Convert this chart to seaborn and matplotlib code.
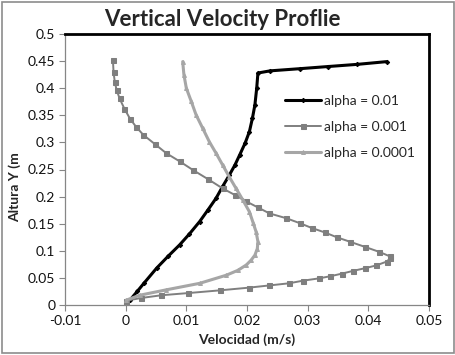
import matplotlib
matplotlib.use("Agg")
import matplotlib.pyplot as plt
import seaborn as sns
import pandas as pd
from matplotlib.patches import Rectangle

# Data (velocity m/s, height m)
v_a1 = [0.0, 0.0007, 0.0019, 0.0030, 0.0051, 0.0070, 0.0089, 0.0105, 0.0122, 0.0136,
        0.0149, 0.0160, 0.0171, 0.0180, 0.0188, 0.0197, 0.0204, 0.0209, 0.0213,
        0.0216, 0.0218, 0.0238, 0.0287, 0.0334, 0.0382, 0.0430]
h_a1 = [0.0, 0.009, 0.025, 0.040, 0.068, 0.090, 0.111, 0.131, 0.154, 0.176,
        0.197, 0.219, 0.240, 0.258, 0.277, 0.299, 0.320, 0.345, 0.369,
        0.400, 0.428, 0.432, 0.436, 0.440, 0.444, 0.449]

v_a2 = [0.0, 0.0001, 0.0026, 0.0059, 0.0103, 0.0155, 0.0203, 0.0236, 0.0269, 0.0293,
        0.0318, 0.0337, 0.0357, 0.0375, 0.0395, 0.0413, 0.0430, 0.0436, 0.0435,
        0.0418, 0.0395, 0.0369, 0.0348, 0.0328, 0.0307, 0.0287, 0.0265, 0.0237,
        0.0218, 0.0199, 0.0180, 0.0160, 0.0136, 0.0111, 0.0089, 0.0067, 0.0048,
        0.0029, 0.0017, 0.0007, -0.0002, -0.0010, -0.0015, -0.0018, -0.0020, -0.0021]
h_a2 = [0.0, 0.008, 0.013, 0.018, 0.022, 0.027, 0.032, 0.036, 0.040, 0.045,
        0.049, 0.053, 0.058, 0.063, 0.068, 0.073, 0.080, 0.086, 0.090,
        0.098, 0.107, 0.117, 0.125, 0.134, 0.142, 0.151, 0.160, 0.169,
        0.180, 0.191, 0.203, 0.215, 0.232, 0.249, 0.265, 0.280, 0.297,
        0.314, 0.329, 0.344, 0.362, 0.381, 0.397, 0.412, 0.430, 0.452]

v_a3 = [0.0001, 0.0023, 0.0067, 0.0122, 0.0166, 0.0185, 0.0199, 0.0207, 0.0213, 0.0217,
        0.0218, 0.0215, 0.0210, 0.0204, 0.0193, 0.0182, 0.0171, 0.0160, 0.0149,
        0.0138, 0.0127, 0.0116, 0.0108, 0.0100, 0.0096, 0.0094]
h_a3 = [0.009, 0.018, 0.028, 0.040, 0.055, 0.064, 0.074, 0.083, 0.092, 0.104,
        0.117, 0.135, 0.152, 0.172, 0.194, 0.215, 0.236, 0.258, 0.280,
        0.301, 0.326, 0.351, 0.376, 0.400, 0.425, 0.449]

labels = ["alpha = 0.01", "alpha = 0.001", "alpha = 0.0001"]
x_ticks = [-0.01, 0, 0.01, 0.02, 0.03, 0.04, 0.05]
x_tick_labels = ["-0.01", "0", "0.01", "0.02", "0.03", "0.04", "0.05"]
y_ticks = [0, 0.05, 0.1, 0.15, 0.2, 0.25, 0.3, 0.35, 0.4, 0.45, 0.5]
y_tick_labels = ["0", "0.05", "0.1", "0.15", "0.2", "0.25", "0.3", "0.35", "0.4", "0.45", "0.5"]

sns.set_style("white")
plt.rcParams['font.family'] = ['Lato', 'DejaVu Sans']

fig = plt.figure(figsize=(4.56, 3.55), dpi=100)
ax = fig.add_axes([65/456, 1-305/355, (429-65)/456, (305-34)/355])

styles = [
    (v_a1, h_a1, "#000000", "D", 2.2, 2.2),
    (v_a2, h_a2, "#7f7f7f", "s", 3.6, 1.4),
    (v_a3, h_a3, "#a6a6a6", "^", 2.8, 2.2),
]
for (vv, hh, col, mk, ms, lw), lab in zip(styles, labels):
    df = pd.DataFrame({"v": vv, "h": hh})
    sns.lineplot(data=df, x="v", y="h", sort=False, estimator=None, ax=ax,
                 color=col, marker=mk, markersize=ms, linewidth=lw,
                 markeredgecolor=col, label=lab)

ax.set_xlim(-0.01, 0.05)
ax.set_ylim(0, 0.5)
ax.set_xticks(x_ticks)
ax.set_xticklabels(x_tick_labels)
ax.set_yticks(y_ticks)
ax.set_yticklabels(y_tick_labels)
ax.tick_params(axis='both', labelsize=10, length=4, width=0.8, color="#868686",
               direction='out', pad=3, labelcolor="#111111")
ax.tick_params(left=True, bottom=True)

for s in ["left", "bottom"]:
    ax.spines[s].set_color("#868686")
    ax.spines[s].set_linewidth(0.9)
for s in ["top", "right"]:
    ax.spines[s].set_color("#000000")
    ax.spines[s].set_linewidth(2.0)

ax.set_xlabel("Velocidad (m/s)", fontsize=10, fontweight='bold', labelpad=5)
ax.set_ylabel("Altura Y (m", fontsize=10, fontweight='bold')
ax.yaxis.set_label_coords(-0.12, 0.435)

fig.text(222/456, 1-20/355, "Vertical Velocity Proflie", fontsize=16, fontweight='bold',
         ha='center', va='center')

leg = ax.legend(loc='upper left', bbox_to_anchor=(0.57, 0.82), frameon=False,
                fontsize=10, handlelength=2.6, handletextpad=0.2, labelspacing=1.0)

fig.patches.append(Rectangle((2/456, 2/355), 452/456, 351/355, transform=fig.transFigure,
                             fill=False, edgecolor="#8c8c8c", linewidth=1.2))

fig.savefig("out.png", dpi=100)
